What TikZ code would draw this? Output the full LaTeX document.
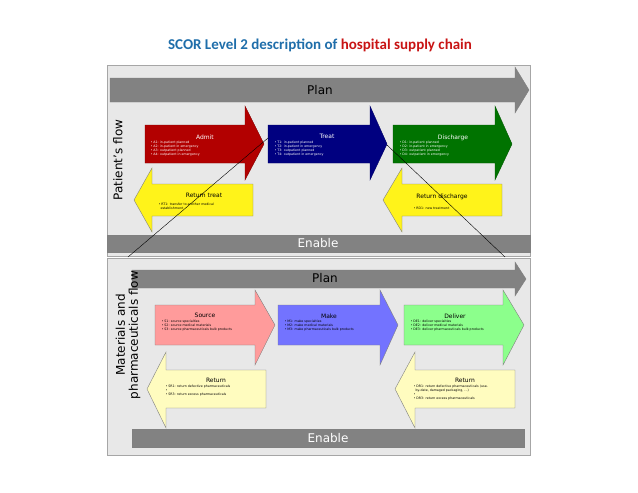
\documentclass[tikz,border=0pt]{standalone}
\usepackage{fontspec}
\setmainfont{Carlito}
\setsansfont{DejaVu Sans}
\usetikzlibrary{positioning}
\definecolor{titleblue}{RGB}{31,110,170}
\definecolor{titlered}{RGB}{200,20,20}
\definecolor{panelgray}{RGB}{232,232,232}
\definecolor{bargray}{RGB}{130,130,130}
% right pointing arrow: x1, x2, tip, body top, body bottom, head top, head bottom
\newcommand{\rarrow}[8]{\filldraw[#1] (#2,#5) -- (#3,#5) -- (#3,#7) -- (#4,{(#5+#6)/2}) -- (#3,#8) -- (#3,#6) -- (#2,#6) -- cycle;}
% left pointing arrow: x right, x head base, tip, body top, body bottom, head top, head bottom
\newcommand{\larrow}[8]{\filldraw[#1] (#2,#5) -- (#3,#5) -- (#3,#7) -- (#4,{(#5+#6)/2}) -- (#3,#8) -- (#3,#6) -- (#2,#6) -- cycle;}
\begin{document}
\begin{tikzpicture}[x=1pt,y=-1pt,
    panel/.style={fill=panelgray,draw=gray!70},
    bar/.style={fill=bargray,draw=gray},
    steptitle/.style={font=\sffamily\fontsize{6}{7}\selectfont,anchor=north},
    bullets/.style={font=\sffamily\fontsize{3.2}{4}\selectfont,align=left,anchor=north west},
    bigtext/.style={font=\sffamily\fontsize{12}{13}\selectfont},
    flowlabel/.style={font=\sffamily\fontsize{12}{13}\selectfont,rotate=90,align=center}]
    \useasboundingbox (0,0) rectangle (638,493);

    % Title
    \node (title) at (320,45) {\fontsize{15}{17}\selectfont\bfseries\textcolor{titleblue}{SCOR Level 2 description of }\textcolor{titlered}{hospital supply chain}};

    % Patient's flow panel
    \filldraw[panel] (107,65) rectangle (530,256);
    \rarrow{bar}{110}{515}{529}{78}{102}{67}{113}
    \node[bigtext] (plan1) at (320,90) {Plan};
    \filldraw[bar] (107,235) rectangle (530,252);
    \node[bigtext,text=white] (enable1) at (318,243.5) {Enable};
    \node[flowlabel] (pflow) at (118,160) {Patient's flow};

    \rarrow{fill=red!70!black,draw=red!50!black}{145}{245}{264}{125}{163}{106}{180}
    \rarrow{fill=blue!50!black,draw=blue!40!black}{268}{370}{387}{125}{163}{106}{180}
    \rarrow{fill=green!45!black,draw=green!35!black}{393}{495}{512}{125}{163}{106}{180}
    \larrow{fill=yellow!90!white,draw=gray}{253}{152}{134}{184}{216}{168}{232}
    \larrow{fill=yellow!90!white,draw=gray}{502}{402}{383}{184}{216}{168}{232}

    \node[steptitle,text=white] (admit) at (205,131) {Admit};
    \node[bullets,text=white] (admitlist) at (147,138) {• A1: in-patient planned\\• A2: in-patient in emergency\\• A3: outpatient planned\\• A4: outpatient in emergency};
    \node[steptitle,text=white] (treat) at (327,131) {Treat};
    \node[bullets,text=white] (treatlist) at (271,138) {• T1: in-patient planned\\• T2: in-patient in emergency\\• T3: outpatient planned\\• T4: outpatient in emergency};
    \node[steptitle,text=white] (discharge) at (453,131) {Discharge};
    \node[bullets,text=white] (dischargelist) at (396,138) {• D1: in-patient planned\\• D2: in-patient in emergency\\• D3: outpatient planned\\• D4: outpatient in emergency};
    \node[steptitle] (rtreat) at (204,190) {Return treat};
    \node[bullets] (rtreatlist) at (155,200) {• RT1: transfer to another medical\\\ \ establishment};
    \node[steptitle] (rdischarge) at (442,190) {Return discharge};
    \node[bullets] (rdischargelist) at (410,204) {• RD1: new treatment};

    % Materials and pharmaceuticals flow panel
    \filldraw[panel] (107,258) rectangle (530,455);
    \rarrow{bar}{132}{515}{526}{270}{288}{262}{296}
    \node[bigtext] (plan2) at (325,278) {Plan};
    \filldraw[bar] (132,429) rectangle (524,447);
    \node[bigtext,text=white] (enable2) at (328,438) {Enable};
    \node[flowlabel] (mflow) at (128,335) {Materials and\\pharmaceuticals flow};

    \rarrow{fill=red!25!pink!90,draw=gray}{155}{255}{275}{305}{345}{290}{365}
    \rarrow{fill=blue!55!white,draw=gray}{278}{380}{398}{305}{345}{290}{365}
    \rarrow{fill=green!45!white,draw=gray}{404}{503}{524}{305}{345}{290}{365}
    \larrow{fill=yellow!25!white,draw=gray}{266}{166}{147}{370}{408}{352}{428}
    \larrow{fill=yellow!25!white,draw=gray}{515}{415}{395}{370}{408}{352}{428}

    \node[steptitle] (source) at (205,310) {Source};
    \node[bullets] (sourcelist) at (158,317) {• S1: source specialties\\• S2: source medical materials\\• S3: source pharmaceuticals bulk products};
    \node[steptitle] (make) at (329,310) {Make};
    \node[bullets] (makelist) at (281,317) {• M1: make specialties\\• M2: make medical materials\\• M3: make pharmaceuticals bulk products};
    \node[steptitle] (deliver) at (455,310) {Deliver};
    \node[bullets] (deliverlist) at (407,317) {• DE1: deliver specialties\\• DE2: deliver medical materials\\• DE3: deliver pharmaceuticals bulk products};
    \node[steptitle] (rsource) at (216,375) {Return};
    \node[bullets] (rsourcelist) at (162,382) {• SR1: return defective pharmaceuticals\\•\\• SR3: return excess pharmaceuticals};
    \node[steptitle] (rdeliver) at (465,375) {Return};
    \node[bullets] (rdeliverlist) at (410,382) {• DR1: return defective pharmaceuticals (use-\\\ \ by-date, damaged packaging, ...)\\•\\• DR3: return excess pharmaceuticals};

    % Zoom lines
    \coordinate (zoomL) at (268,138);
    \coordinate (zoomR) at (387,145);
    \coordinate (lowL) at (128,257);
    \coordinate (lowR) at (505,257);
    \draw[thin] (zoomL) -- (lowL);
    \draw[thin] (zoomR) -- (lowR);
\end{tikzpicture}
\end{document}
